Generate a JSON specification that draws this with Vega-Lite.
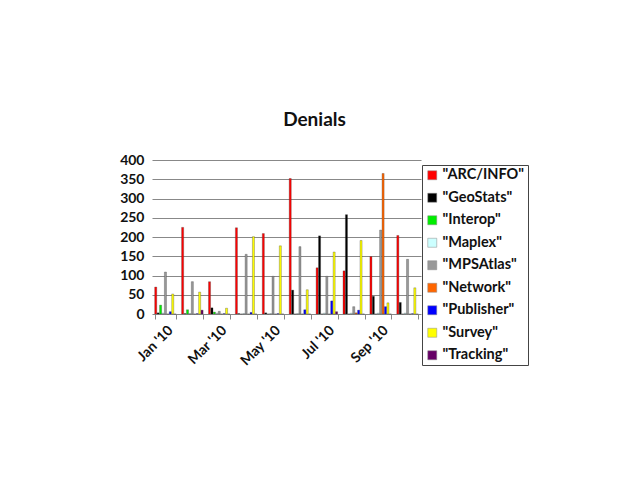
{
  "$schema": "https://vega.github.io/schema/vega-lite/v6.json",
  "width": 269,
  "height": 154,
  "padding": {"left": 119, "top": 111, "right": 5, "bottom": 5},
  "background": "white",
  "title": {"text": "Denials", "fontSize": 19, "font": "Lato", "fontWeight": "bold", "color": "#111", "dx": 28, "offset": 23},
  "data": {
    "values": [
      {"month": "Jan '10", "series": "ARC/INFO", "value": 70},
      {"month": "Jan '10", "series": "GeoStats", "value": 3},
      {"month": "Jan '10", "series": "Interop", "value": 23},
      {"month": "Jan '10", "series": "Maplex", "value": 2},
      {"month": "Jan '10", "series": "MPSAtlas", "value": 109},
      {"month": "Jan '10", "series": "Network", "value": 0},
      {"month": "Jan '10", "series": "Publisher", "value": 6},
      {"month": "Jan '10", "series": "Survey", "value": 52},
      {"month": "Jan '10", "series": "Tracking", "value": 0},
      {"month": "Feb '10", "series": "ARC/INFO", "value": 225},
      {"month": "Feb '10", "series": "GeoStats", "value": 1},
      {"month": "Feb '10", "series": "Interop", "value": 11},
      {"month": "Feb '10", "series": "Maplex", "value": 1},
      {"month": "Feb '10", "series": "MPSAtlas", "value": 84},
      {"month": "Feb '10", "series": "Network", "value": 0},
      {"month": "Feb '10", "series": "Publisher", "value": 1},
      {"month": "Feb '10", "series": "Survey", "value": 57},
      {"month": "Feb '10", "series": "Tracking", "value": 10},
      {"month": "Mar '10", "series": "ARC/INFO", "value": 84},
      {"month": "Mar '10", "series": "GeoStats", "value": 16},
      {"month": "Mar '10", "series": "Interop", "value": 5},
      {"month": "Mar '10", "series": "Maplex", "value": 2},
      {"month": "Mar '10", "series": "MPSAtlas", "value": 7},
      {"month": "Mar '10", "series": "Network", "value": 0},
      {"month": "Mar '10", "series": "Publisher", "value": 1},
      {"month": "Mar '10", "series": "Survey", "value": 15},
      {"month": "Mar '10", "series": "Tracking", "value": 0},
      {"month": "Apr '10", "series": "ARC/INFO", "value": 224},
      {"month": "Apr '10", "series": "GeoStats", "value": 1},
      {"month": "Apr '10", "series": "Interop", "value": 0},
      {"month": "Apr '10", "series": "Maplex", "value": 1},
      {"month": "Apr '10", "series": "MPSAtlas", "value": 155},
      {"month": "Apr '10", "series": "Network", "value": 0},
      {"month": "Apr '10", "series": "Publisher", "value": 4},
      {"month": "Apr '10", "series": "Survey", "value": 201},
      {"month": "Apr '10", "series": "Tracking", "value": 0},
      {"month": "May '10", "series": "ARC/INFO", "value": 209},
      {"month": "May '10", "series": "GeoStats", "value": 3},
      {"month": "May '10", "series": "Interop", "value": 0},
      {"month": "May '10", "series": "Maplex", "value": 1},
      {"month": "May '10", "series": "MPSAtlas", "value": 98},
      {"month": "May '10", "series": "Network", "value": 0},
      {"month": "May '10", "series": "Publisher", "value": 1},
      {"month": "May '10", "series": "Survey", "value": 177},
      {"month": "May '10", "series": "Tracking", "value": 0},
      {"month": "Jun '10", "series": "ARC/INFO", "value": 352},
      {"month": "Jun '10", "series": "GeoStats", "value": 62},
      {"month": "Jun '10", "series": "Interop", "value": 0},
      {"month": "Jun '10", "series": "Maplex", "value": 1},
      {"month": "Jun '10", "series": "MPSAtlas", "value": 175},
      {"month": "Jun '10", "series": "Network", "value": 0},
      {"month": "Jun '10", "series": "Publisher", "value": 11},
      {"month": "Jun '10", "series": "Survey", "value": 63},
      {"month": "Jun '10", "series": "Tracking", "value": 0},
      {"month": "Jul '10", "series": "ARC/INFO", "value": 120},
      {"month": "Jul '10", "series": "GeoStats", "value": 203},
      {"month": "Jul '10", "series": "Interop", "value": 0},
      {"month": "Jul '10", "series": "Maplex", "value": 2},
      {"month": "Jul '10", "series": "MPSAtlas", "value": 98},
      {"month": "Jul '10", "series": "Network", "value": 0},
      {"month": "Jul '10", "series": "Publisher", "value": 34},
      {"month": "Jul '10", "series": "Survey", "value": 161},
      {"month": "Jul '10", "series": "Tracking", "value": 6},
      {"month": "Aug '10", "series": "ARC/INFO", "value": 112},
      {"month": "Aug '10", "series": "GeoStats", "value": 258},
      {"month": "Aug '10", "series": "Interop", "value": 0},
      {"month": "Aug '10", "series": "Maplex", "value": 2},
      {"month": "Aug '10", "series": "MPSAtlas", "value": 19},
      {"month": "Aug '10", "series": "Network", "value": 3},
      {"month": "Aug '10", "series": "Publisher", "value": 10},
      {"month": "Aug '10", "series": "Survey", "value": 191},
      {"month": "Aug '10", "series": "Tracking", "value": 0},
      {"month": "Sep '10", "series": "ARC/INFO", "value": 149},
      {"month": "Sep '10", "series": "GeoStats", "value": 46},
      {"month": "Sep '10", "series": "Interop", "value": 0},
      {"month": "Sep '10", "series": "Maplex", "value": 2},
      {"month": "Sep '10", "series": "MPSAtlas", "value": 218},
      {"month": "Sep '10", "series": "Network", "value": 365},
      {"month": "Sep '10", "series": "Publisher", "value": 19},
      {"month": "Sep '10", "series": "Survey", "value": 29},
      {"month": "Sep '10", "series": "Tracking", "value": 0},
      {"month": "Oct '10", "series": "ARC/INFO", "value": 204},
      {"month": "Oct '10", "series": "GeoStats", "value": 30},
      {"month": "Oct '10", "series": "Interop", "value": 0},
      {"month": "Oct '10", "series": "Maplex", "value": 2},
      {"month": "Oct '10", "series": "MPSAtlas", "value": 142},
      {"month": "Oct '10", "series": "Network", "value": 0},
      {"month": "Oct '10", "series": "Publisher", "value": 1},
      {"month": "Oct '10", "series": "Survey", "value": 68},
      {"month": "Oct '10", "series": "Tracking", "value": 0}
    ]
  },
  "mark": {"type": "bar", "stroke": "#333", "strokeWidth": 0.3},
  "encoding": {
    "x": {
      "field": "month", "type": "nominal", "sort": null, "title": null,
      "scale": {"paddingInner": 0.2, "paddingOuter": 0.1},
      "axis": {
        "labelAngle": -45, "labelFont": "Lato", "labelFontWeight": "bold", "labelFontSize": 14, "labelColor": "#111",
        "labelExpr": "test(/^(Jan|Mar|May|Jul|Sep)/, datum.label) ? datum.label : ''",
        "domain": false, "ticks": true, "tickBand": "extent", "tickColor": "#888", "tickSize": 5, "labelPadding": 4, "grid": false
      }
    },
    "xOffset": {"field": "series", "type": "nominal", "sort": ["ARC/INFO", "GeoStats", "Interop", "Maplex", "MPSAtlas", "Network", "Publisher", "Survey", "Tracking"], "scale": {"paddingInner": 0.15}},
    "y": {
      "field": "value", "type": "quantitative", "title": null,
      "scale": {"domain": [0, 400], "nice": false},
      "axis": {"values": [0, 50, 100, 150, 200, 250, 300, 350, 400], "labelFont": "Lato", "labelFontWeight": "bold", "labelFontSize": 14, "labelColor": "#111", "domain": false, "ticks": false, "labelPadding": 8, "gridColor": "#888", "gridWidth": 1.2}
    },
    "color": {
      "field": "series", "type": "nominal", "title": null,
      "sort": ["ARC/INFO", "GeoStats", "Interop", "Maplex", "MPSAtlas", "Network", "Publisher", "Survey", "Tracking"],
      "scale": {
        "domain": ["ARC/INFO", "GeoStats", "Interop", "Maplex", "MPSAtlas", "Network", "Publisher", "Survey", "Tracking"],
        "range": ["#ff0000", "#000000", "#00ee00", "#ccffff", "#999999", "#ff6600", "#0000ff", "#ffff00", "#660066"]
      },
      "legend": {
        "orient": "none", "legendX": 270, "legendY": 5,
        "labelExpr": "'\"' + datum.label + '\"'",
        "labelFont": "Lato", "labelFontWeight": "bold", "labelFontSize": 14.5, "labelColor": "#111",
        "symbolType": "square", "symbolSize": 81, "symbolStrokeColor": "#888", "symbolStrokeWidth": 0.5,
        "rowPadding": 7.5, "padding": 3, "strokeColor": "#444", "labelOffset": 3
      }
    }
  },
  "config": {"view": {"stroke": null}}
}
